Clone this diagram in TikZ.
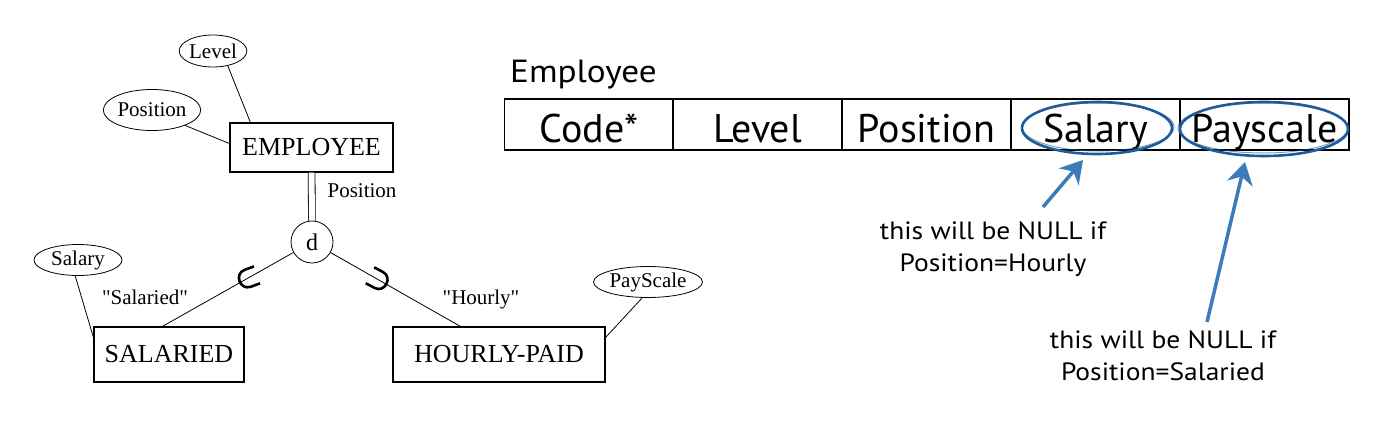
\documentclass[tikz,border=0pt]{standalone}
\usepackage{fontspec}
\setmainfont{Liberation Serif}[Ligatures=TeXOff]
\newfontfamily\gill{PT Sans}
\newfontfamily\gillwide{PT Sans}[FakeStretch=1.1]
\usetikzlibrary{shapes.geometric,calc,arrows.meta}
\definecolor{inkdark}{HTML}{1D5C99}
\definecolor{inklight}{HTML}{3B7DB8}
\begin{document}
\begin{tikzpicture}[x=1pt,y=-1pt,
  ent/.style={draw, line width=1.2pt, inner sep=0pt, font=\fontsize{26}{30}\selectfont},
  attr/.style={draw, ellipse, line width=0.8pt, inner sep=0pt, font=\fontsize{21}{24}\selectfont},
  lbl/.style={font=\fontsize{21}{24}\selectfont, inner sep=0pt},
  conn/.style={line width=0.8pt},
  subsetsym/.style={line width=2.6pt},
  cell/.style={draw, line width=1.2pt, minimum width=169pt, minimum height=51pt, inner sep=0pt,
    text height=40pt, text depth=5pt, font=\gill\fontsize{40}{44}\selectfont},
  note/.style={align=center, inner sep=0pt, font=\gillwide\fontsize{25}{32}\selectfont},
  hand/.style={draw=inkdark, line width=2.6pt, ellipse, inner sep=0pt},
  pointer/.style={draw=inklight, line width=3.5pt, -{Stealth[length=22pt,width=26pt,inset=7pt,fill=inklight]}}
]
\useasboundingbox (0,0) rectangle (1385,426);

% ---------- EER diagram ----------
\node[ent, minimum width=163pt, minimum height=49pt] (emp) at (311.5,147.5) {EMPLOYEE};
\node[ent, minimum width=150pt, minimum height=55pt] (sal) at (169,354.5) {SALARIED};
\node[ent, minimum width=212pt, minimum height=55pt] (hp) at (499,354.5) {HOURLY-PAID};

\node[attr, minimum width=60pt, minimum height=32pt] (lvl) at (213,51) {Level};
\node[attr, minimum width=89pt, minimum height=41pt] (pos) at (152,110) {Position};
\node[attr, minimum width=88pt, minimum height=31pt] (salary) at (78,260) {Salary};
\node[attr, minimum width=103pt, minimum height=31pt] (pay) at (648,282) {PayScale};

\node[draw, circle, line width=0.8pt, minimum size=42pt, inner sep=0pt, font=\fontsize{24}{28}\selectfont] (d) at (312,242) {d};

\coordinate (salTop) at ($(sal.north west)+(69,0)$);
\coordinate (hpTop) at ($(hp.north west)+(68,0)$);

\draw[conn] (lvl.-45) -- ($(emp.north west)+(21,0)$);
\draw[conn] (pos.-25) -- ($(emp.west)+(0,-4)$);
\draw[conn] (salary.-100) -- ($(sal.north west)+(0,11)$);
\draw[conn] (pay.-110) -- ($(hp.north east)+(0,11)$);
\draw[conn, double, double distance=6pt] (emp) -- (d);
\draw[conn] (d) -- (salTop);
\draw[conn] (d) -- (hpTop);

\draw[subsetsym, shift={($(d)!0.43!(salTop)$)}, rotate=20]
  (10,-9) -- (0,-9) .. controls (-11.5,-9) and (-11.5,9) .. (0,9) -- (10,9);
\draw[subsetsym, shift={($(d)!0.45!(hpTop)$)}, rotate=152]
  (10,-9) -- (0,-9) .. controls (-11.5,-9) and (-11.5,9) .. (0,9) -- (10,9);

\node[lbl] (lblpos) at (362,191) {Position};
\node[lbl] (lblsal) at (145,297) {"Salaried"};
\node[lbl] (lblhr) at (481,299) {"Hourly"};

% ---------- relation table ----------
\node[anchor=base west, inner sep=0pt, font=\gillwide\fontsize{32}{36}\selectfont] (title) at (510,82) {Employee};
\node[cell] (c1) at (589,124.5) {Code*};
\node[cell] (c2) at (757.5,124.5) {Level};
\node[cell] (c3) at (926.5,124.5) {Position};
\node[cell] (c4) at (1095.5,124.5) {Salary};
\node[cell] (c5) at (1264.5,124.5) {Payscale};

\node[hand, minimum width=150pt, minimum height=52pt] (salO) at (1097,128) {};
\draw[draw=inkdark, line width=1pt, opacity=.6] (1098,127) ellipse [x radius=76, y radius=24];
\node[hand, minimum width=168pt, minimum height=54pt] (payO) at (1264,129) {};
\draw[draw=inkdark, line width=1pt, opacity=.6] (1263,128) ellipse [x radius=85, y radius=25];

\node[note] (n1) at (993,249) {this will be NULL if\\Position=Hourly};
\node[note] (n2) at (1163,356) {this will be NULL if\\Position=Salaried};

\coordinate (a1s) at (1043,207);
\coordinate (a1e) at (1083,160);
\coordinate (a2s) at (1207,322);
\coordinate (a2e) at (1245,162);
\draw[pointer] (a1s) -- (a1e);
\draw[pointer] (a2s) -- (a2e);
\end{tikzpicture}
\end{document}
